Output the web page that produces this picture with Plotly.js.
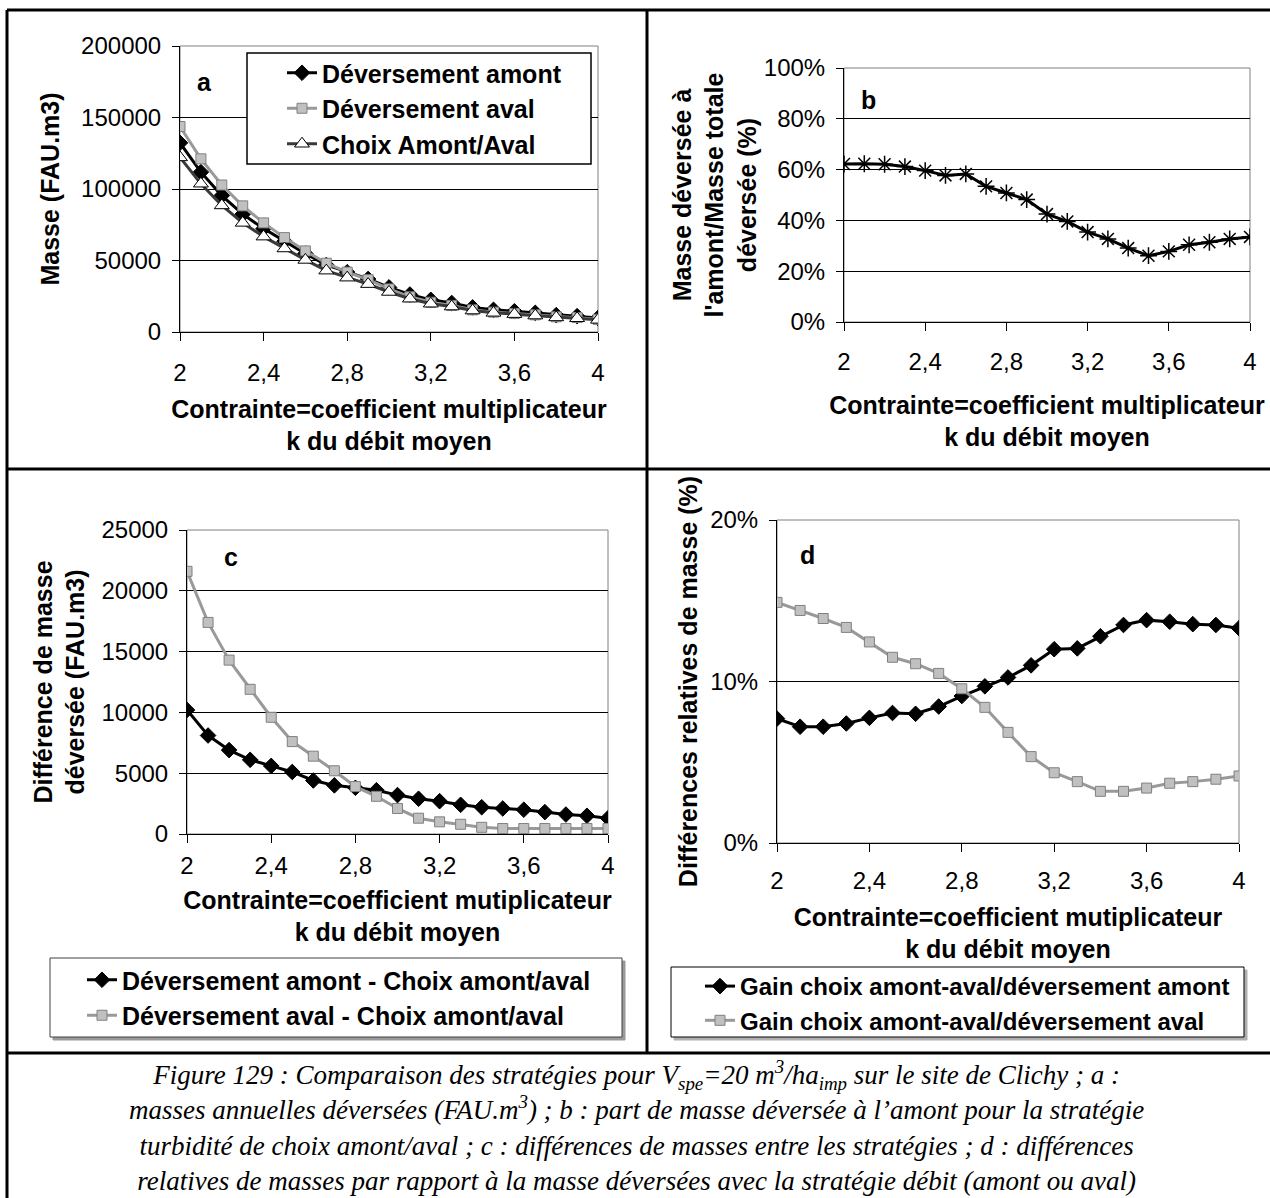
<!DOCTYPE html>
<html>
<head>
<meta charset="utf-8">
<script src="https://cdn.plot.ly/plotly-3.0.1.min.js"></script>
<style>
  html, body { margin: 0; padding: 0; background: #ffffff; }
  #chart { width: 1270px; height: 1198px; }
</style>
</head>
<body>
<div id="chart"></div>
<script>
// ---------------- DATA ----------------
const kValues = [2.0, 2.1, 2.2, 2.3, 2.4, 2.5, 2.6, 2.7, 2.8, 2.9, 3.0, 3.1, 3.2, 3.3, 3.4, 3.5, 3.6, 3.7, 3.8, 3.9, 4.0];
const xTickVals = [2, 2.4, 2.8, 3.2, 3.6, 4];
const xTickText = ['2', '2,4', '2,8', '3,2', '3,6', '4'];

// a : masses annuelles déversées (FAU.m3)
const masseAmont = [132300, 111800, 95400, 82400, 72300, 63500, 54800, 46900, 41800, 37100, 31200, 26200, 22500, 20300, 17200, 15500, 14500, 13400, 11800, 11100, 9800];
const masseAval  = [143700, 121100, 102800, 88200, 76300, 66000, 56700, 48100, 41900, 36600, 30100, 24600, 20800, 18600, 15500, 13900, 13000, 12000, 10600, 10100, 8900];
const masseChoix = [122100, 103700, 88500, 76300, 66700, 58400, 50400, 42900, 38000, 33500, 28000, 23300, 19800, 17800, 15000, 13400, 12500, 11500, 10200, 9600, 8500];

// b : part de masse déversée à l'amont (%)
const partAmont = [62.2, 62.3, 62.1, 61.2, 59.6, 57.7, 58.3, 53.4, 50.8, 48.2, 42.5, 39.6, 35.4, 32.7, 29.1, 26.1, 27.8, 30.4, 31.4, 32.7, 33.5];

// c : différences de masse (FAU.m3)
const diffAmont = [10200, 8100, 6900, 6100, 5600, 5100, 4400, 4000, 3800, 3600, 3200, 2900, 2700, 2400, 2200, 2100, 2000, 1800, 1600, 1500, 1300];
const diffAval  = [21600, 17400, 14300, 11900, 9600, 7600, 6400, 5200, 3900, 3100, 2100, 1300, 1000, 800, 550, 450, 450, 450, 450, 450, 450];

// d : différences relatives (%)
const gainAmont = [7.7, 7.2, 7.2, 7.4, 7.75, 8.05, 8.0, 8.45, 9.1, 9.7, 10.25, 11.0, 12.0, 12.05, 12.8, 13.5, 13.8, 13.7, 13.55, 13.5, 13.3];
const gainAval  = [14.9, 14.4, 13.9, 13.35, 12.45, 11.5, 11.1, 10.5, 9.55, 8.4, 6.85, 5.35, 4.35, 3.8, 3.2, 3.2, 3.4, 3.7, 3.8, 3.95, 4.15];

// ---------------- HELPERS ----------------
const W = 1270, H = 1198;
const PX = v => v / W;
const PY = v => 1 - v / H;
const SANS = 'Liberation Sans, Arial, sans-serif';
const SERIF = 'Liberation Serif, Times New Roman, serif';
const BLACK = '#000000';
const GREY_LINE = '#999999';
const GREY_FILL = '#c0c0c0';
const GREY_EDGE = '#808080';

const tickFont = {family: SANS, size: 24, color: BLACK};
const titleFont = {family: SANS, size: 25, color: BLACK, weight: 'bold'};

function xAxis(x0, x1, anchor, standoffLabels, titleStandoff, titleText) {
  return {
    domain: [PX(x0), PX(x1)], anchor: anchor, range: [2, 4],
    tickvals: xTickVals, ticktext: xTickText,
    showgrid: false, zeroline: false,
    showline: true, linecolor: BLACK, linewidth: 1,
    ticks: 'outside', ticklen: 8, tickcolor: BLACK, tickwidth: 1,
    ticklabelstandoff: standoffLabels,
    tickfont: tickFont,
    title: {text: titleText, font: titleFont, standoff: titleStandoff},
    fixedrange: true
  };
}
function yAxis(y0, y1, anchor, range, dtick, suffix, titleText, titleStandoff) {
  return {
    domain: [PY(y1), PY(y0)], anchor: anchor, range: range, dtick: dtick,
    tickformat: 'd', ticksuffix: suffix, exponentformat: 'none',
    showgrid: true, gridcolor: BLACK, gridwidth: 1, zeroline: false,
    showline: true, linecolor: BLACK, linewidth: 1,
    ticks: 'outside', ticklen: 7, tickcolor: BLACK, tickwidth: 1,
    ticklabelstandoff: 6,
    tickfont: tickFont,
    title: {text: titleText, font: titleFont, standoff: titleStandoff},
    fixedrange: true
  };
}

const diamondBlack = {symbol: 'diamond', size: 12, color: BLACK, line: {color: BLACK, width: 1}};
const squareGrey = {symbol: 'square', size: 10, color: GREY_FILL, line: {color: GREY_EDGE, width: 1}};

const traces = [
  // panel a
  {x: kValues, y: masseAmont, xaxis: 'x', yaxis: 'y', type: 'scatter', mode: 'lines+markers',
   name: 'Déversement amont', legend: 'legend', legendrank: 1,
   line: {color: BLACK, width: 3}, marker: diamondBlack},
  {x: kValues, y: masseAval, xaxis: 'x', yaxis: 'y', type: 'scatter', mode: 'lines+markers',
   name: 'Déversement aval', legend: 'legend', legendrank: 2,
   line: {color: GREY_LINE, width: 3}, marker: squareGrey},
  {x: kValues, y: masseChoix, xaxis: 'x', yaxis: 'y', type: 'scatter', mode: 'lines+markers',
   name: 'Choix Amont/Aval', legend: 'legend', legendrank: 3,
   line: {color: '#3a3a3a', width: 3},
   marker: {symbol: 'triangle-up', size: 13, color: '#ffffff', line: {color: BLACK, width: 1}}},
  // panel b
  {x: kValues, y: partAmont, xaxis: 'x2', yaxis: 'y2', type: 'scatter', mode: 'lines+markers',
   name: "Masse déversée à l'amont", showlegend: false,
   line: {color: BLACK, width: 3},
   marker: {symbol: 'asterisk-open', size: 14, color: BLACK, line: {color: BLACK, width: 1.5}}},
  // panel c
  {x: kValues, y: diffAmont, xaxis: 'x3', yaxis: 'y3', type: 'scatter', mode: 'lines+markers',
   name: 'Déversement amont - Choix amont/aval', legend: 'legend2',
   line: {color: BLACK, width: 3}, marker: diamondBlack},
  {x: kValues, y: diffAval, xaxis: 'x3', yaxis: 'y3', type: 'scatter', mode: 'lines+markers',
   name: 'Déversement aval - Choix amont/aval', legend: 'legend2',
   line: {color: GREY_LINE, width: 3}, marker: squareGrey},
  // panel d
  {x: kValues, y: gainAmont, xaxis: 'x4', yaxis: 'y4', type: 'scatter', mode: 'lines+markers',
   name: 'Gain choix amont-aval/déversement amont', legend: 'legend3',
   line: {color: BLACK, width: 3}, marker: diamondBlack},
  {x: kValues, y: gainAval, xaxis: 'x4', yaxis: 'y4', type: 'scatter', mode: 'lines+markers',
   name: 'Gain choix amont-aval/déversement aval', legend: 'legend3',
   line: {color: GREY_LINE, width: 3}, marker: squareGrey}
];

const titleMulti = 'Contrainte=coefficient multiplicateur<br>k du débit moyen';
const titleMuti = 'Contrainte=coefficient mutiplicateur<br>k du débit moyen';
const xa = xAxis(180, 598, 'y', 11, 15, titleMulti);
const xb = xAxis(844, 1250, 'y2', 10, 22, titleMulti);
const xc = xAxis(187, 608, 'y3', 2, 13, titleMuti);
const xd = xAxis(777, 1239, 'y4', 8, 15, titleMuti);

const ya = yAxis(46, 332, 'x', [0, 200000], 50000, '', 'Masse (FAU.m3)', 14);
const yb = yAxis(68, 322, 'x2', [0, 100], 20, '%', 'Masse déversée à<br>l\'amont/Masse totale<br>déversée (%)', 0);
const yc = yAxis(530, 834, 'x3', [0, 25000], 5000, '', 'Différence de masse<br>déversée (FAU.m3)', 9);
const yd = yAxis(520, 843, 'x4', [0, 20], 10, '%', 'Différences relatives de masse (%)', 5);

function plotBorder(xr, yr) {
  return {type: 'rect', xref: xr + ' domain', yref: yr + ' domain', x0: 0, x1: 1, y0: 0, y1: 1,
          line: {color: GREY_EDGE, width: 1}, fillcolor: 'rgba(0,0,0,0)', layer: 'below'};
}
function pline(x0, y0, x1, y1) {
  return {type: 'line', xref: 'paper', yref: 'paper', x0: PX(x0), y0: PY(y0), x1: PX(x1), y1: PY(y1),
          line: {color: BLACK, width: 3}, layer: 'above'};
}
function prect(x0, y0, x1, y1, lineColor, fill, lw) {
  return {type: 'rect', xref: 'paper', yref: 'paper', x0: PX(x0), y0: PY(y0), x1: PX(x1), y1: PY(y1),
          line: {color: lineColor, width: lw}, fillcolor: fill, layer: 'above'};
}

const shapes = [
  plotBorder('x', 'y'), plotBorder('x2', 'y2'), plotBorder('x3', 'y3'), plotBorder('x4', 'y4'),
  // frame
  pline(7, 10, 7, 1198), pline(7, 10, 1270, 10), pline(647, 10, 647, 1053),
  pline(7, 469, 1270, 469), pline(7, 1053, 1270, 1053),
  // legend boxes
  prect(247, 53, 591, 164, BLACK, '#ffffff', 1.5),
  prect(53, 961, 625, 1040, '#9a9a9a', '#9a9a9a', 1),
  prect(50, 958, 622, 1037, '#404040', '#ffffff', 1),
  prect(674, 970, 1247, 1040, '#b0b0b0', '#b0b0b0', 1),
  prect(671, 967, 1244, 1037, BLACK, '#ffffff', 1)
];

function legendAt(x, y, size) {
  return {x: PX(x), y: PY(y), xanchor: 'left', yanchor: 'top', orientation: 'v',
          bgcolor: 'rgba(0,0,0,0)', borderwidth: 0,
          font: {family: SANS, size: size, color: BLACK, weight: 'bold'},
          itemclick: false, itemdoubleclick: false};
}

const panelLabel = (t, x, y) => ({text: '<b>' + t + '</b>', xref: 'paper', yref: 'paper', x: PX(x), y: PY(y),
  xanchor: 'center', yanchor: 'middle', showarrow: false, font: {family: SANS, size: 25, color: BLACK}});

const captionLines = [
  'Figure 129 : Comparaison des stratégies pour V<sub>spe</sub>=20 m<sup>3</sup>/ha<sub>imp</sub> sur le site de Clichy ; a :',
  'masses annuelles déversées (FAU.m<sup>3</sup>) ; b : part de masse déversée à l’amont pour la stratégie',
  'turbidité de choix amont/aval ; c : différences de masses entre les stratégies ; d : différences',
  'relatives de masses par rapport à la masse déversées avec la stratégie débit (amont ou aval)'
];
const captionAnn = {
  text: '<i>' + captionLines.join('<br>') + '</i>', xref: 'paper', yref: 'paper', x: PX(636), y: PY(1126),
  xanchor: 'center', yanchor: 'middle', align: 'center', showarrow: false, borderpad: 0,
  font: {family: SERIF, size: 27, color: BLACK}
};

const layout = {
  width: W, height: H,
  margin: {l: 0, r: 0, t: 0, b: 0, pad: 0},
  paper_bgcolor: '#ffffff', plot_bgcolor: '#ffffff',
  font: {family: SANS, color: BLACK},
  xaxis: xa, yaxis: ya, xaxis2: xb, yaxis2: yb, xaxis3: xc, yaxis3: yc, xaxis4: xd, yaxis4: yd,
  legend: legendAt(282, 50, 25),
  legend2: legendAt(82, 957, 25),
  legend3: legendAt(700, 964, 24),
  shapes: shapes,
  annotations: [
    panelLabel('a', 204, 82), panelLabel('b', 868, 100), panelLabel('c', 231, 557), panelLabel('d', 807, 555),
    captionAnn
  ],
  showlegend: true
};

Plotly.newPlot('chart', traces, layout, {staticPlot: true, displayModeBar: false});
</script>
</body>
</html>
